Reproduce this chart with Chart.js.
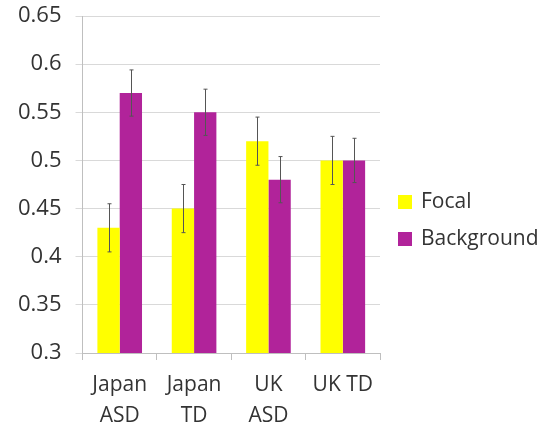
<!DOCTYPE html>
<html>
<head>
<meta charset="utf-8">
<script src="https://cdn.jsdelivr.net/npm/chart.js@4/dist/chart.umd.min.js"></script>
<style>
  html, body { margin: 0; padding: 0; background: #fff; }
  #wrap { width: 550px; height: 428px; position: relative; }
  #legend { position: absolute; left: 398px; top: 184px; font-family: 'Open Sans', sans-serif; font-size: 21px; color: #333; }
  #legend div { height: 37px; line-height: 32px; white-space: nowrap; }
  #legend span { display: inline-block; width: 14px; height: 14px; margin-right: 9px; vertical-align: -1px; }
</style>
</head>
<body>
<div id="wrap"><canvas id="chart"></canvas><div id="legend"></div></div>
<script>
const categories = [['Japan', 'ASD'], ['Japan', 'TD'], ['UK', 'ASD'], 'UK TD'];
const seriesNames = ['Focal', 'Background'];
const seriesColors = ['#ffff00', '#b1239a'];
const focalValues = [0.43, 0.45, 0.52, 0.50];
const focalErrors = [0.025, 0.025, 0.025, 0.025];
const backgroundValues = [0.57, 0.55, 0.48, 0.50];
const backgroundErrors = [0.024, 0.024, 0.024, 0.023];
const yTicks = [0.3, 0.35, 0.4, 0.45, 0.5, 0.55, 0.6, 0.65];

const FONT = "'Open Sans', sans-serif";

// draws the error whiskers on top of the bars
const errorBars = {
    id: 'errorBars',
    afterDatasetsDraw(chart) {
        const ctx = chart.ctx;
        const y = chart.scales.y;
        ctx.save();
        ctx.strokeStyle = '#555';
        ctx.lineWidth = 1;
        chart.data.datasets.forEach((ds, di) => {
            const meta = chart.getDatasetMeta(di);
            meta.data.forEach((bar, i) => {
                const v = ds.data[i];
                const e = ds.errors[i];
                const top = y.getPixelForValue(v + e);
                const bot = y.getPixelForValue(v - e);
                const x = Math.round(bar.x) + 0.5;
                ctx.beginPath();
                ctx.moveTo(x, top);
                ctx.lineTo(x, bot);
                ctx.moveTo(x - 2, top);
                ctx.lineTo(x + 2, top);
                ctx.moveTo(x - 2, bot);
                ctx.lineTo(x + 2, bot);
                ctx.stroke();
            });
        });
        ctx.restore();
    }
};

// simple html legend on the right
document.getElementById('legend').innerHTML = seriesNames.map((n, i) =>
    `<div><span style="background:${seriesColors[i]}"></span>${n}</div>`).join('');

new Chart(document.getElementById('chart'), {
    type: 'bar',
    data: {
        labels: categories,
        datasets: [
            {
                label: seriesNames[0],
                data: focalValues,
                errors: focalErrors,
                backgroundColor: seriesColors[0],
                categoryPercentage: 0.6,
                barPercentage: 1.0
            },
            {
                label: seriesNames[1],
                data: backgroundValues,
                errors: backgroundErrors,
                backgroundColor: seriesColors[1],
                categoryPercentage: 0.6,
                barPercentage: 1.0
            }
        ]
    },
    options: {
        responsive: true,
        maintainAspectRatio: false,
        animation: false,
        layout: { padding: { top: 16, left: 4, right: 170, bottom: 0 } },
        plugins: {
            tooltip: { enabled: false },
            legend: { display: false }
        },
        scales: {
            x: {
                afterFit: scale => { scale.height = 75; },
                grid: {
                    display: true,
                    drawOnChartArea: false,
                    color: '#bfbfbf',
                    tickLength: 7,
                    offset: true
                },
                border: { color: '#bfbfbf' },
                ticks: {
                    color: '#333',
                    font: { family: FONT, size: 21, lineHeight: 1.45 },
                    maxRotation: 0,
                    padding: 10
                }
            },
            y: {
                min: yTicks[0],
                max: yTicks[yTicks.length - 1],
                afterBuildTicks: axis => { axis.ticks = yTicks.map(v => ({ value: v })); },
                afterFit: scale => { scale.paddingTop = 0; scale.paddingBottom = 0; },
                grid: { color: '#d9d9d9', tickLength: 7 },
                border: { color: '#bfbfbf' },
                ticks: {
                    color: '#333',
                    font: { family: FONT, size: 22 },
                    padding: 14,
                    callback: v => String(Math.round(v * 100) / 100)
                }
            }
        }
    },
    plugins: [errorBars]
});
</script>
</body>
</html>
